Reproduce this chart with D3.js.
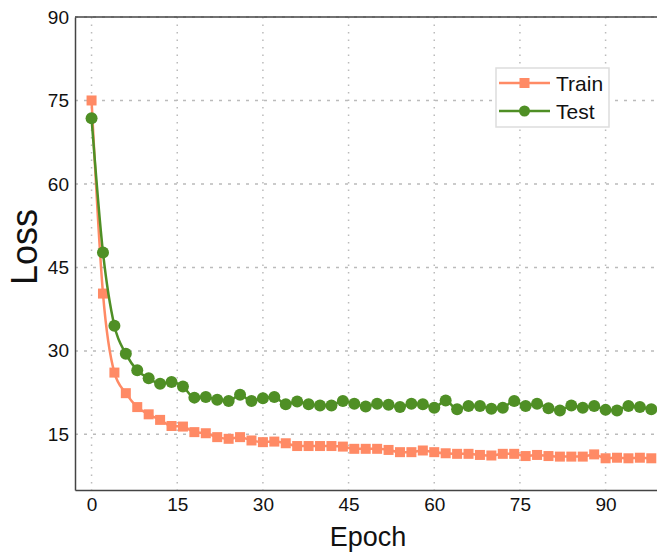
<!DOCTYPE html>
<html>
<head>
<meta charset="utf-8">
<script src="https://cdnjs.cloudflare.com/ajax/libs/d3/7.8.5/d3.min.js"></script>
<style>
  body { margin: 0; background: #fff; }
  text { font-family: "Liberation Sans", Arial, sans-serif; }
</style>
</head>
<body>
<script>
var epochs = d3.range(0, 100, 2);

var trainLoss = [75, 40.3, 26.1, 22.4, 19.9, 18.6, 17.6, 16.5, 16.4, 15.4,
  15.2, 14.5, 14.2, 14.5, 13.9, 13.6, 13.7, 13.4, 12.9, 12.9,
  12.9, 12.9, 12.8, 12.4, 12.4, 12.4, 12.2, 11.8, 11.8, 12.1,
  11.8, 11.6, 11.5, 11.5, 11.3, 11.2, 11.5, 11.5, 11.1, 11.3,
  11.1, 11.0, 11.0, 11.0, 11.4, 10.7, 10.8, 10.7, 10.8, 10.7];

var testLoss = [71.8, 47.7, 34.5, 29.5, 26.5, 25.1, 24.1, 24.4, 23.6, 21.6,
  21.7, 21.2, 21.0, 22.1, 21.0, 21.5, 21.7, 20.4, 20.9, 20.4,
  20.2, 20.2, 21.0, 20.5, 20.0, 20.5, 20.3, 19.9, 20.5, 20.4,
  19.8, 21.1, 19.5, 20.1, 20.1, 19.6, 19.8, 21.0, 20.1, 20.5,
  19.7, 19.3, 20.2, 19.8, 20.1, 19.4, 19.3, 20.1, 19.9, 19.5];

var xTicks = [0, 15, 30, 45, 60, 75, 90];
var yTicks = [15, 30, 45, 60, 75, 90];

var svgWidth = 657;
var svgHeight = 556;
var plotLeft = 75, plotTop = 17, plotRight = 657, plotBottom = 490;

var trainColor = "#ff8a65";
var testColor = "#4f8f25";

var svg = d3.select("body")
  .append("svg")
  .attr("width", svgWidth)
  .attr("height", svgHeight);

var xScale = d3.scaleLinear()
  .domain([-2.9, 99])
  .range([plotLeft, plotRight]);

var yScale = d3.scaleLinear()
  .domain([5, 90])
  .range([plotBottom, plotTop]);

// grid
svg.append("g")
  .selectAll("line")
  .data(xTicks)
  .enter()
  .append("line")
  .attr("x1", d => xScale(d)).attr("x2", d => xScale(d))
  .attr("y1", plotTop).attr("y2", plotBottom)
  .style("stroke", "#bbb")
  .style("stroke-width", 1.5)
  .style("stroke-dasharray", "1.5,6");

svg.append("g")
  .selectAll("line")
  .data(yTicks)
  .enter()
  .append("line")
  .attr("x1", plotLeft).attr("x2", plotRight)
  .attr("y1", d => yScale(d)).attr("y2", d => yScale(d))
  .style("stroke", "#bbb")
  .style("stroke-width", 1.5)
  .style("stroke-dasharray", "3,6");

// axes
var xAxis = svg.append("g")
  .attr("transform", "translate(0," + plotBottom + ")")
  .call(d3.axisBottom(xScale).tickValues(xTicks).tickSize(0).tickPadding(8));

var yAxis = svg.append("g")
  .attr("transform", "translate(" + plotLeft + ",0)")
  .call(d3.axisLeft(yScale).tickValues(yTicks).tickSize(0).tickPadding(6));

[xAxis, yAxis].forEach(function(a) {
  a.select(".domain").style("stroke", "#444").style("stroke-width", 1.5);
  a.selectAll("text")
    .style("font-size", "19px")
    .style("fill", "#111")
    .style("font-family", "'Liberation Sans', Arial, sans-serif");
});

// top border
svg.append("line")
  .attr("x1", plotLeft).attr("x2", plotRight)
  .attr("y1", plotTop).attr("y2", plotTop)
  .style("stroke", "#444")
  .style("stroke-width", 1.5);

// lines
function drawSeries(values, color, shape) {
  var pts = epochs.map((e, i) => [e, values[i]]);
  var line = d3.line()
    .x(d => xScale(d[0]))
    .y(d => yScale(d[1]))
    .curve(d3.curveMonotoneX);

  svg.append("path")
    .datum(pts)
    .attr("d", line)
    .style("fill", "none")
    .style("stroke", color)
    .style("stroke-width", 2.5);

  if (shape === "square") {
    svg.append("g").selectAll("rect")
      .data(pts)
      .enter()
      .append("rect")
      .attr("x", d => xScale(d[0]) - 5)
      .attr("y", d => yScale(d[1]) - 5)
      .attr("width", 10)
      .attr("height", 10)
      .style("fill", color);
  } else {
    svg.append("g").selectAll("circle")
      .data(pts)
      .enter()
      .append("circle")
      .attr("cx", d => xScale(d[0]))
      .attr("cy", d => yScale(d[1]))
      .attr("r", 6)
      .style("fill", color);
  }
}

drawSeries(trainLoss, trainColor, "square");
drawSeries(testLoss, testColor, "circle");

// axis titles
svg.append("text")
  .attr("x", 368)
  .attr("y", 546)
  .attr("text-anchor", "middle")
  .style("font-size", "27px")
  .style("fill", "#111")
  .text("Epoch");

svg.append("text")
  .attr("transform", "translate(37,247) rotate(-90)")
  .attr("text-anchor", "middle")
  .style("font-size", "36px")
  .style("fill", "#111")
  .text("Loss");

// legend
var legend = svg.append("g");
legend.append("rect")
  .attr("x", 496).attr("y", 68)
  .attr("width", 113).attr("height", 59)
  .style("fill", "#fff")
  .style("stroke", "#ddd")
  .style("stroke-width", 1.5);

var legendItems = [
  { name: "Train", color: trainColor, shape: "square", y: 83 },
  { name: "Test", color: testColor, shape: "circle", y: 111 }
];

legendItems.forEach(function(d) {
  legend.append("line")
    .attr("x1", 499).attr("x2", 550)
    .attr("y1", d.y).attr("y2", d.y)
    .style("stroke", d.color)
    .style("stroke-width", 2.5);
  if (d.shape === "square") {
    legend.append("rect")
      .attr("x", 519.5).attr("y", d.y - 5)
      .attr("width", 10).attr("height", 10)
      .style("fill", d.color);
  } else {
    legend.append("circle")
      .attr("cx", 524.5).attr("cy", d.y)
      .attr("r", 5.5)
      .style("fill", d.color);
  }
  legend.append("text")
    .attr("x", 556)
    .attr("y", d.y + 7.5)
    .style("font-size", "21px")
    .style("fill", "#111")
    .text(d.name);
});
</script>
</body>
</html>
